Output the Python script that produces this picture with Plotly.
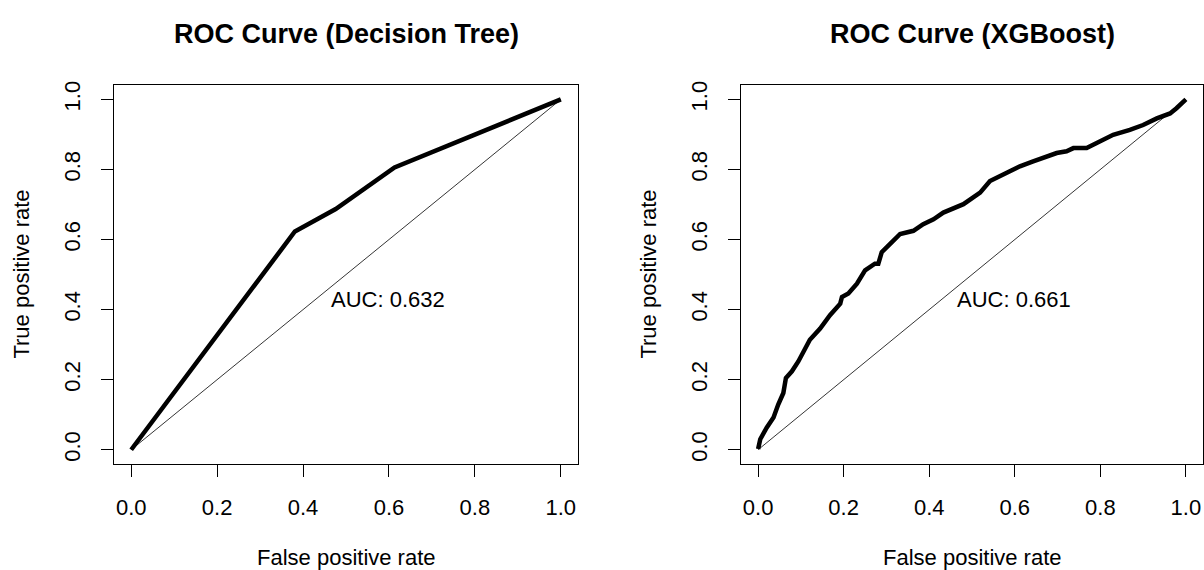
import plotly.graph_objects as go

# Data
dt_fpr = [0.0, 0.381, 0.476, 0.613, 1.0]
dt_tpr = [0.0, 0.623, 0.687, 0.806, 1.0]

xgb_fpr = [0.0, 0.005, 0.020, 0.036, 0.047, 0.059, 0.065, 0.079, 0.094, 0.106, 0.121,
           0.145, 0.168, 0.192, 0.196, 0.211, 0.231, 0.250, 0.273, 0.281, 0.289, 0.308,
           0.332, 0.363, 0.386, 0.410, 0.433, 0.480, 0.519, 0.542, 0.573, 0.612, 0.643,
           0.675, 0.698, 0.721, 0.737, 0.768, 0.799, 0.830, 0.869, 0.900, 0.932, 0.963,
           0.978, 1.0]
xgb_tpr = [0.002, 0.030, 0.063, 0.092, 0.129, 0.162, 0.205, 0.224, 0.252, 0.280, 0.314,
           0.346, 0.384, 0.417, 0.436, 0.446, 0.474, 0.512, 0.531, 0.531, 0.564, 0.587,
           0.616, 0.625, 0.644, 0.658, 0.677, 0.701, 0.734, 0.767, 0.786, 0.809, 0.823,
           0.838, 0.847, 0.852, 0.861, 0.861, 0.880, 0.899, 0.913, 0.927, 0.946, 0.960,
           0.975, 1.0]

diag = [0.0, 1.0]
titles = ["ROC Curve (Decision Tree)", "ROC Curve (XGBoost)"]
auc_labels = ["AUC: 0.632", "AUC: 0.661"]
tick_vals = [0.0, 0.2, 0.4, 0.6, 0.8, 1.0]
tick_text = ["0.0", "0.2", "0.4", "0.6", "0.8", "1.0"]

W, H = 1204, 570
FONT = "Liberation Sans, Arial, sans-serif"

fig = go.Figure()

panels = [
    dict(fpr=dt_fpr, tpr=dt_tpr, xa="x", ya="y"),
    dict(fpr=xgb_fpr, tpr=xgb_tpr, xa="x2", ya="y2"),
]
for p in panels:
    fig.add_trace(go.Scatter(x=diag, y=diag, mode="lines", xaxis=p["xa"], yaxis=p["ya"],
                             line=dict(color="black", width=0.8), showlegend=False, hoverinfo="skip"))
    fig.add_trace(go.Scatter(x=p["fpr"], y=p["tpr"], mode="lines", xaxis=p["xa"], yaxis=p["ya"],
                             line=dict(color="black", width=4.5), showlegend=False))

# pixel layout
box_x = [(114, 578), (741, 1203)]
box_top, box_bot = 82, 463
ydom = [(H - box_bot) / H, (H - box_top) / H]

axis_common = dict(range=[-0.04, 1.04], showgrid=False, zeroline=False, showline=True, mirror=True,
                   linecolor="black", linewidth=1, ticks="outside", ticklen=12, tickwidth=1,
                   tickcolor="black", tickvals=tick_vals, ticktext=tick_text,
                   tickfont=dict(family=FONT, size=22, color="black"))

layout = dict(width=W, height=H, margin=dict(l=0, r=0, t=0, b=0),
              paper_bgcolor="white", plot_bgcolor="white", showlegend=False)
for i, (x0, x1) in enumerate(box_x):
    sfx = "" if i == 0 else str(i + 1)
    layout["xaxis" + sfx] = dict(axis_common, domain=[x0 / W, x1 / W], anchor="y" + sfx,
                                 ticklabelstandoff=12)
    layout["yaxis" + sfx] = dict(axis_common, domain=ydom, anchor="x" + sfx, tickangle=-90,
                                 ticklabelstandoff=12)
fig.update_layout(**layout)

ann = []
for i, (x0, x1) in enumerate(box_x):
    sfx = "" if i == 0 else str(i + 1)
    cx = (x0 + x1) / 2 / W
    ann.append(dict(text="<b>%s</b>" % titles[i], x=cx, y=(H - 30) / H, xref="paper", yref="paper",
                    showarrow=False, xanchor="center", yanchor="middle",
                    font=dict(family=FONT, size=27, color="black")))
    ann.append(dict(text="False positive rate", x=cx, y=(H - 557) / H, xref="paper", yref="paper",
                    showarrow=False, xanchor="center", yanchor="middle",
                    font=dict(family=FONT, size=22, color="black")))
    ann.append(dict(text="True positive rate", x=(x0 - 92) / W, y=(ydom[0] + ydom[1]) / 2,
                    xref="paper", yref="paper", showarrow=False, textangle=-90,
                    xanchor="center", yanchor="middle",
                    font=dict(family=FONT, size=22, color="black")))
    ann.append(dict(text=auc_labels[i], x=0.46, y=0.43, xref="x" + sfx, yref="y" + sfx,
                    showarrow=False, xanchor="left", yanchor="middle",
                    font=dict(family=FONT, size=22, color="black")))
fig.update_layout(annotations=ann)

fig.write_html("out.html")
